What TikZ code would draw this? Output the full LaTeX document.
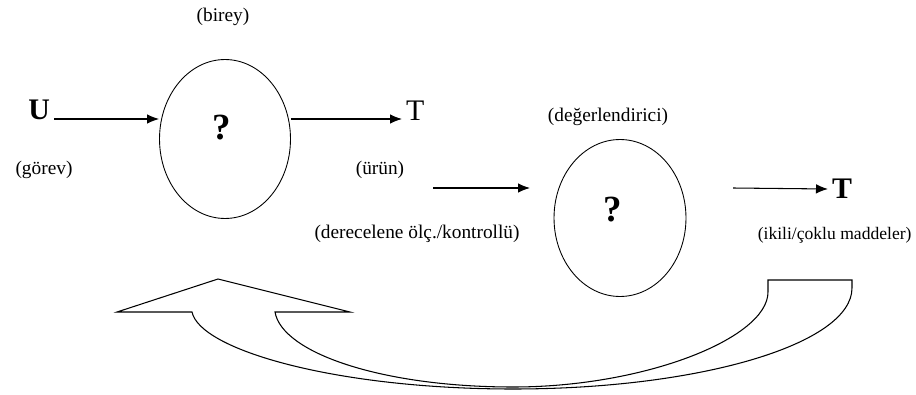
\documentclass[tikz,border=0pt]{standalone}
\usepackage{fontspec}
\setmainfont{Liberation Serif}
\usetikzlibrary{shapes.geometric, arrows.meta}

\begin{document}
\begin{tikzpicture}[x=0.02cm, y=-0.02cm, line width=0.6pt, >={Latex[length=0.24cm,width=0.19cm]},
    lbl/.style={font=\fontsize{11}{13}\selectfont, inner sep=0pt},
    big/.style={font=\fontsize{17}{20}\selectfont, inner sep=2pt},
    oval/.style={draw, ellipse, line width=0.5pt, inner sep=0pt},
    qmark/.style={font=\fontsize{21}{24}\selectfont\bfseries}]
    \useasboundingbox (0,0) rectangle (916,395);
    % birinci adim
    \node[oval, minimum width=2.62cm, minimum height=3.18cm] (birey) at (225,139) {};
    \node[qmark] (q1) at (222,128) {?};
    \node[lbl] (bireyl) at (223,17) {(birey)};
    \node[big, anchor=base east, font=\fontsize{17}{20}\selectfont\bfseries] (u) at (54,119) {U};
    \node[big, anchor=base west] (t1) at (402,121) {T};
    \draw[->] (u.base east) -- (u.base east -| birey.west);
    \draw[->] (birey.east |- u.base east) -- (t1.base west |- u.base east);
    \node[lbl] (gorev) at (44,170) {(görev)};
    \node[lbl] (urun) at (380,170) {(ürün)};
    % ikinci adim
    \node[oval, minimum width=2.64cm, minimum height=3.14cm] (deger) at (620,218) {};
    \node[qmark] (q2) at (613,210) {?};
    \node[lbl] (degerl) at (608,117) {(değerlendirici)};
    \coordinate (b0) at (433,188);
    \coordinate (b1) at (530,188);
    \draw[->] (b0) -- (b1);
    \node[lbl] (olcek) at (417,234) {(derecelene ölç./kontrollü)};
    \coordinate (c0) at (733,188);
    \node[big, anchor=west, font=\fontsize{17}{20}\selectfont\bfseries] (t2) at (828,189) {T};
    \draw[->] (c0) -- (t2.west);
    \node[lbl, anchor=east, font=\fontsize{10}{12}\selectfont] (madde) at (912,235) {(ikili/çoklu maddeler)};
    % geri bildirim oku
    \draw[fill=white, line join=miter]
        (852,288) .. controls (852,344) and (700,389) .. (513,389)
        .. controls (336,389) and (200,350) .. (192,312)
        -- (117,312) -- (218,279) -- (350,312) -- (275,312)
        .. controls (282,353) and (382,387) .. (513,387)
        .. controls (645,387) and (768,338) .. (768,292)
        -- (768,280) -- (852,280) -- cycle;
\end{tikzpicture}
\end{document}
